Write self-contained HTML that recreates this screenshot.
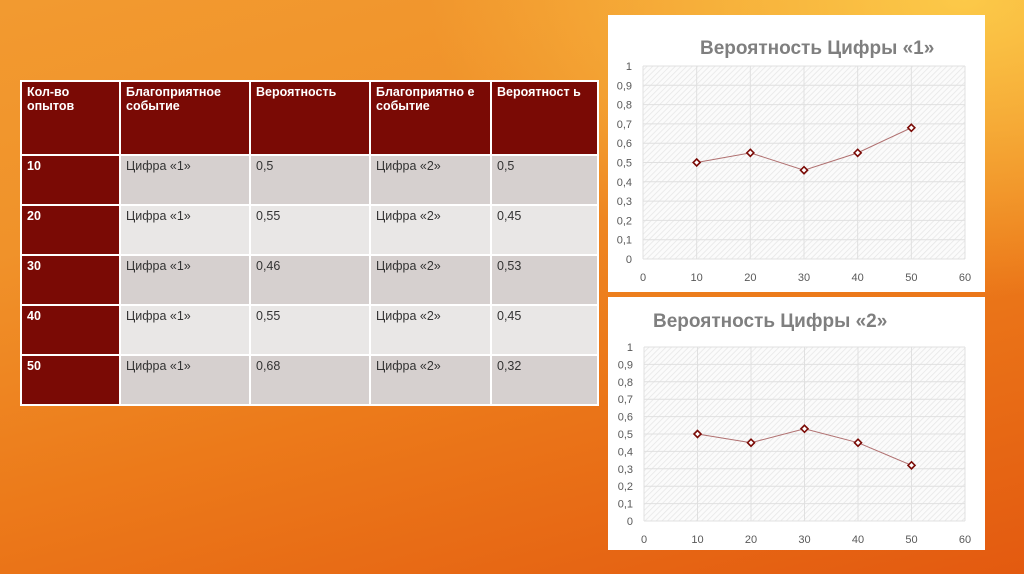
<!DOCTYPE html>
<html><head><meta charset="utf-8"><style>
body{margin:0;width:1024px;height:574px;overflow:hidden;font-family:"Liberation Sans","DejaVu Sans",sans-serif;
background:linear-gradient(165deg,#f29a30 0%,#f0922a 30%,#ec7a1a 60%,#e35a10 100%);position:relative}
.glow{position:absolute;right:0;top:0;width:600px;height:300px;background:radial-gradient(ellipse at 90% 0%,rgba(255,215,80,.8),rgba(255,200,60,0) 70%)}
table{position:absolute;left:20px;top:80px;border-collapse:collapse;font-size:12.5px;table-layout:fixed;width:577px}
td{border:2px solid #fff;vertical-align:top;padding:3px 5px;color:#333;box-sizing:border-box;overflow:hidden}
tr.h td{background:#7a0a05;color:#fff;font-weight:bold;height:74px}
td.c1{background:#7a0a05;color:#fff;font-weight:bold}
tr.a td{background:#d6d0cf;height:50px}
tr.b td{background:#e9e7e6;height:50px}
tr.a td.c1,tr.b td.c1{background:#7a0a05}
</style></head><body>
<div class="glow"></div>
<table>
<colgroup><col style="width:99px"><col style="width:130px"><col style="width:120px"><col style="width:121px"><col style="width:107px"></colgroup>
<tr class="h"><td>Кол-во опытов</td><td>Благоприятное событие</td><td>Вероятность</td><td>Благоприятно е событие</td><td>Вероятност ь</td></tr>
<tr class="a"><td class="c1">10</td><td>Цифра «1»</td><td>0,5</td><td>Цифра «2»</td><td>0,5</td></tr>
<tr class="b"><td class="c1">20</td><td>Цифра «1»</td><td>0,55</td><td>Цифра «2»</td><td>0,45</td></tr>
<tr class="a"><td class="c1">30</td><td>Цифра «1»</td><td>0,46</td><td>Цифра «2»</td><td>0,53</td></tr>
<tr class="b"><td class="c1">40</td><td>Цифра «1»</td><td>0,55</td><td>Цифра «2»</td><td>0,45</td></tr>
<tr class="a"><td class="c1">50</td><td>Цифра «1»</td><td>0,68</td><td>Цифра «2»</td><td>0,32</td></tr>
</table>
<svg width="1024" height="574" style="position:absolute;left:0;top:0" id="svg">
<defs><pattern id="hatch" width="4" height="4" patternUnits="userSpaceOnUse" patternTransform="rotate(45)"><rect width="4" height="4" fill="#fbfbfb"/><line x1="0" y1="0" x2="0" y2="4" stroke="#e6e6e6" stroke-width="1.5"/></pattern></defs>
</svg>
<script>
const xs=[10,20,30,40,50];
const seriesOne=[0.5,0.55,0.46,0.55,0.68];
const seriesTwo=[0.5,0.45,0.53,0.45,0.32];
const yTicks=["0","0,1","0,2","0,3","0,4","0,5","0,6","0,7","0,8","0,9","1"];
const xTicks=[0,10,20,30,40,50,60];
const svg=document.getElementById('svg');
const NS='http://www.w3.org/2000/svg';
function mk(t,a,p){const e=document.createElementNS(NS,t);for(const k in a)e.setAttribute(k,a[k]);(p||svg).appendChild(e);return e;}
function chart(box,title,titleX,titleY,x0,x1,y0,y1,vals,nm){
  const g=mk('g',{});
  
  
  const b=mk('rect',{x:box[0],y:box[1],width:box[2],height:box[3],fill:'#fff'},g);
  
  
  const t=mk('text',{x:titleX,y:titleY,'font-size':19,'font-weight':'bold',fill:'#7f7f7f'},g);t.textContent=title;
  
  
  mk('rect',{x:x0,y:y1,width:x1-x0,height:y0-y1,fill:'url(#hatch)'},g);
  const sx=v=>x0+(v-0)/60*(x1-x0), sy=v=>y0-v*(y0-y1);
  yTicks.forEach((l,i)=>{const y=sy(i/10);
    mk('line',{x1:x0,x2:x1,y1:y,y2:y,stroke:'#e0e0e0','stroke-width':1},g);
    const tx=mk('text',{x:x0-11,y:y+4,'font-size':11,fill:'#595959','text-anchor':'end'},g);tx.textContent=l;
    
    });
  xTicks.forEach(v=>{const x=sx(v);
    mk('line',{x1:x,x2:x,y1:y1,y2:y0,stroke:'#e0e0e0','stroke-width':1},g);
    const tx=mk('text',{x:x,y:y0+22,'font-size':11,fill:'#595959','text-anchor':'middle'},g);tx.textContent=v;
    
    });
  const pts=xs.map((x,i)=>sx(x)+','+sy(vals[i])).join(' ');
  const pl=mk('polyline',{points:pts,fill:'none',stroke:'#b07070','stroke-width':1},g);
  
  
  xs.forEach((x,i)=>{const cx=sx(x),cy=sy(vals[i]);
    const m=mk('polygon',{points:`${cx},${cy-3.5} ${cx+3.5},${cy} ${cx},${cy+3.5} ${cx-3.5},${cy}`,fill:'#fff',stroke:'#7a0a05','stroke-width':1.6},g);
    
    });
}
chart([608,15,377,277],'Вероятность Цифры «1»',700,54,643,965,259,66,seriesOne,'chart-digit-1');
chart([608,297,377,253],'Вероятность Цифры «2»',653,327,644,965,521,347,seriesTwo,'chart-digit-2');
</script>
</body></html>
